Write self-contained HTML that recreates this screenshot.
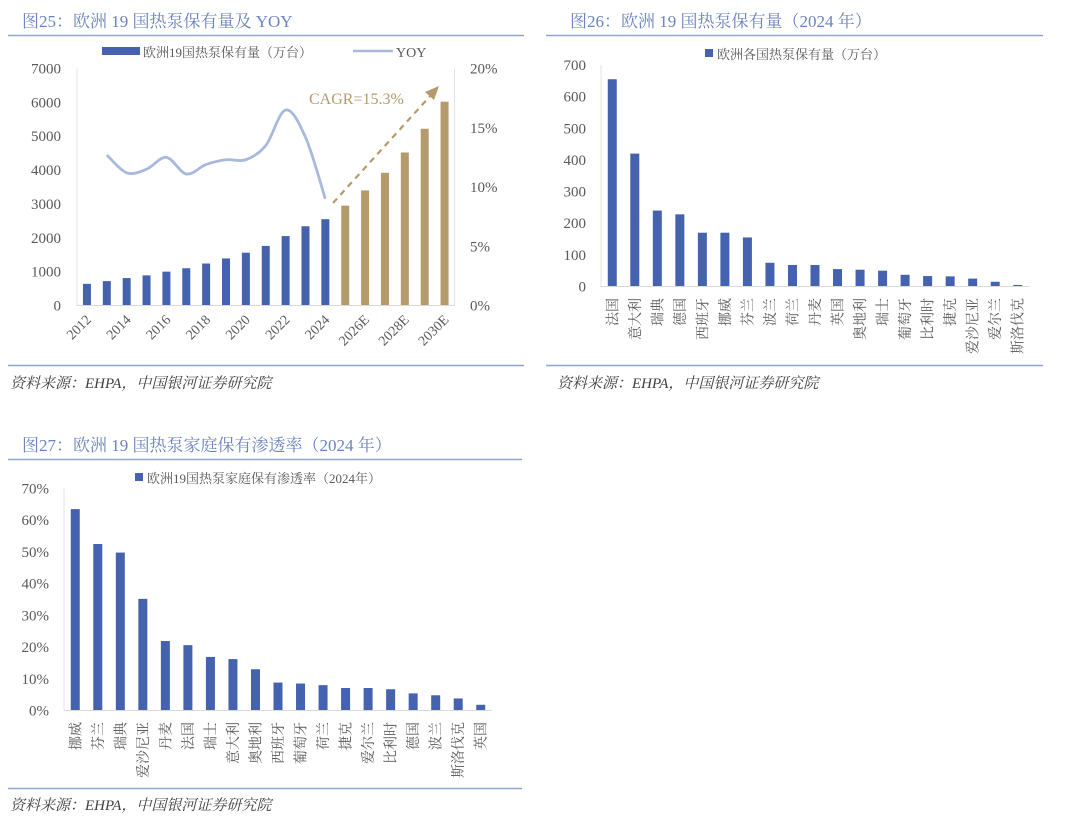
<!DOCTYPE html>
<html><head><meta charset="utf-8">
<style>
html,body{margin:0;padding:0;background:#fff;}
svg{display:block;font-family:"Liberation Serif","Noto Serif CJK SC",serif;}
.t{font-family:"Liberation Serif","Noto Serif CJK SC",serif;}
</style></head>
<body>
<svg id="s" width="1080" height="822" viewBox="0 0 1080 822" xmlns="http://www.w3.org/2000/svg">
<text x="22" y="27" font-size="17" fill="#6b83bf" class="t">图25：欧洲 19 国热泵保有量及 YOY</text>
<line x1="8" y1="35.5" x2="524" y2="35.5" stroke="#8fa3cf" stroke-width="1.5"/>
<rect x="102" y="47" width="38" height="8" fill="#4462ad"/>
<text x="143" y="57" font-size="13" fill="#595959" class="t">欧洲19国热泵保有量（万台）</text>
<line x1="353" y1="51" x2="393" y2="51" stroke="#a9b8dd" stroke-width="2.5"/>
<text x="396" y="57" font-size="14" fill="#595959">YOY</text>
<g id="c1"></g>
<line x1="8" y1="365.5" x2="524" y2="365.5" stroke="#8fa3cf" stroke-width="1.5"/>
<text x="10" y="388" font-size="15" font-style="italic" fill="#404040">资料来源：EHPA，中国银河证券研究院</text>

<text x="570" y="27" font-size="17" fill="#6b83bf" class="t">图26：欧洲 19 国热泵保有量（2024 年）</text>
<line x1="546" y1="35.5" x2="1043" y2="35.5" stroke="#8fa3cf" stroke-width="1.5"/>
<rect x="705" y="49" width="8" height="8" fill="#4462ad"/>
<text x="717" y="59" font-size="13" fill="#595959" class="t">欧洲各国热泵保有量（万台）</text>
<g id="c2"></g>
<line x1="546" y1="365.5" x2="1043" y2="365.5" stroke="#8fa3cf" stroke-width="1.5"/>
<text x="557" y="388" font-size="15" font-style="italic" fill="#404040">资料来源：EHPA，中国银河证券研究院</text>

<text x="22" y="451" font-size="17" fill="#6b83bf" class="t">图27：欧洲 19 国热泵家庭保有渗透率（2024 年）</text>
<line x1="8" y1="459.5" x2="522" y2="459.5" stroke="#8fa3cf" stroke-width="1.5"/>
<rect x="135" y="473" width="8" height="8" fill="#4462ad"/>
<text x="147" y="483" font-size="13" fill="#595959" class="t">欧洲19国热泵家庭保有渗透率（2024年）</text>
<g id="c3"></g>
<line x1="8" y1="788.5" x2="522" y2="788.5" stroke="#8fa3cf" stroke-width="1.5"/>
<text x="10" y="810" font-size="15" font-style="italic" fill="#404040">资料来源：EHPA，中国银河证券研究院</text>
</svg>
<script>
const years = ["2012","2013","2014","2015","2016","2017","2018","2019","2020","2021","2022","2023","2024","2025E","2026E","2027E","2028E","2029E","2030E"];
const yearLabels = ["2012","","2014","","2016","","2018","","2020","","2022","","2024","","2026E","","2028E","","2030E"];
const stock = [640,720,810,890,1000,1100,1240,1390,1560,1760,2050,2340,2550,2950,3400,3920,4520,5220,6020];
const yoyYears = ["2013","2014","2015","2016","2017","2018","2019","2020","2021","2022","2023","2024"];
const yoy = [12.7,11.2,11.5,12.5,11.1,11.9,12.3,12.3,13.5,16.5,14.2,9.0];
const leftTicks = [0,1000,2000,3000,4000,5000,6000,7000];
const rightTicks = [0,5,10,15,20];

const countries2 = ["法国","意大利","瑞典","德国","西班牙","挪威","芬兰","波兰","荷兰","丹麦","英国","奥地利","瑞士","葡萄牙","比利时","捷克","爱沙尼亚","爱尔兰","斯洛伐克"];
const values2 = [655,420,240,228,170,170,155,75,68,68,55,53,50,37,33,32,25,15,5];
const ticks2 = [0,100,200,300,400,500,600,700];

const countries3 = ["挪威","芬兰","瑞典","爱沙尼亚","丹麦","法国","瑞士","意大利","奥地利","西班牙","葡萄牙","荷兰","捷克","爱尔兰","比利时","德国","波兰","斯洛伐克","英国"];
const values3 = [63.5,52.5,49.8,35.2,21.9,20.6,16.9,16.2,13.0,8.8,8.5,8.0,7.1,7.1,6.7,5.4,4.8,3.8,1.8];
const ticks3 = [0,10,20,30,40,50,60,70];

const NS="http://www.w3.org/2000/svg";
function mk(parent,tag,attrs,txt){const e=document.createElementNS(NS,tag);for(const k in attrs)e.setAttribute(k,attrs[k]);if(txt!==undefined)e.textContent=txt;parent.appendChild(e);return e;}

(function(){
  const g=document.getElementById('c1');
  const L=77,R=454.5,B=305.5,T=68.5;
  const slot=(R-L)/years.length;
  const xc=i=>L+slot*(i+0.5);
  const yL=v=>B-(B-T)*v/7000;
  const yR=v=>B-(B-T)*v/20;
  let e=mk(g,'line',{x1:L,y1:T,x2:L,y2:B,stroke:'#e3e3e3'});
  
  
  e=mk(g,'line',{x1:R,y1:T,x2:R,y2:B,stroke:'#e3e3e3'});
  
  
  leftTicks.forEach(v=>{
    const t=mk(g,'text',{x:61,y:yL(v)+5,'font-size':15,fill:'#595959','text-anchor':'end'},String(v));
    
    
  });
  rightTicks.forEach(v=>{
    const t=mk(g,'text',{x:470,y:yR(v)+5,'font-size':15,fill:'#595959'},v+'%');
    
    
  });
  stock.forEach((v,i)=>{
    const est=years[i].indexOf('E')>=0;
    const r=mk(g,'rect',{x:xc(i)-4,y:yL(v),width:8,height:B-yL(v),fill:est?'#b59a6b':'#4462ad'});
    
    
  });
  e=mk(g,'line',{x1:L,y1:B,x2:R,y2:B,stroke:'#d9d9d9'});
  
  
  yearLabels.forEach((s,i)=>{
    if(!s)return;
    const t=mk(g,'text',{x:0,y:0,'font-size':14,fill:'#595959','text-anchor':'end',transform:`translate(${xc(i)+5},${B+15}) rotate(-45)`},s);
    
    
  });
  const pts=yoy.map((v,j)=>[xc(years.indexOf(yoyYears[j])),yR(v)]);
  let d=`M${pts[0][0]},${pts[0][1]}`;
  for(let i=0;i<pts.length-1;i++){
    const p0=pts[i-1]||pts[i],p1=pts[i],p2=pts[i+1],p3=pts[i+2]||p2;
    const c1=[p1[0]+(p2[0]-p0[0])/6,p1[1]+(p2[1]-p0[1])/6];
    const c2=[p2[0]-(p3[0]-p1[0])/6,p2[1]-(p3[1]-p1[1])/6];
    d+=` C${c1[0]},${c1[1]} ${c2[0]},${c2[1]} ${p2[0]},${p2[1]}`;
  }
  const ln=mk(g,'path',{d:d,fill:'none',stroke:'#a9b8dd','stroke-width':2.8});
  
  
  const a=mk(g,'line',{x1:333,y1:203,x2:432,y2:94,stroke:'#b59a6b','stroke-width':2.2,'stroke-dasharray':'6,5'});
  
  
  const ah=mk(g,'polygon',{points:'439,86 425,92 434,100',fill:'#b59a6b'});
  
  
  const ct=mk(g,'text',{x:309,y:104,'font-size':16,fill:'#b59a6b'},'CAGR=15.3%');
  
  
})();

function countryChart(id,prefix,cats,vals,ticks,max,L,R,B,T,labX,fmt,labTop){
  const g=document.getElementById(id);
  const slot=(R-L)/cats.length;
  const xc=i=>L+slot*(i+0.5);
  const y=v=>B-(B-T)*v/max;
  let e=mk(g,'line',{x1:L,y1:T,x2:L,y2:B,stroke:'#e3e3e3'});
  
  
  ticks.forEach(v=>{
    const t=mk(g,'text',{x:labX,y:y(v)+5,'font-size':15,fill:'#595959','text-anchor':'end'},fmt(v));
    
    
  });
  vals.forEach((v,i)=>{
    const r=mk(g,'rect',{x:xc(i)-4.5,y:y(v),width:9,height:B-y(v),fill:'#4462ad'});
    
    
  });
  e=mk(g,'line',{x1:L,y1:B,x2:R,y2:B,stroke:'#d9d9d9'});
  
  
  cats.forEach((c,i)=>{
    const t=mk(g,'text',{x:0,y:0,'font-size':14,fill:'#595959','text-anchor':'end',class:'t',transform:`translate(${xc(i)+5},${labTop}) rotate(-90)`},c);
    
    
  });
}
countryChart('c2','chart2',countries2,values2,ticks2,700,601,1029,286.5,65,586,v=>String(v),298);
countryChart('c3','chart3',countries3,values3,ticks3,70,64,492,710.5,488.5,49,v=>v+'%',722);
</script>
</body></html>
